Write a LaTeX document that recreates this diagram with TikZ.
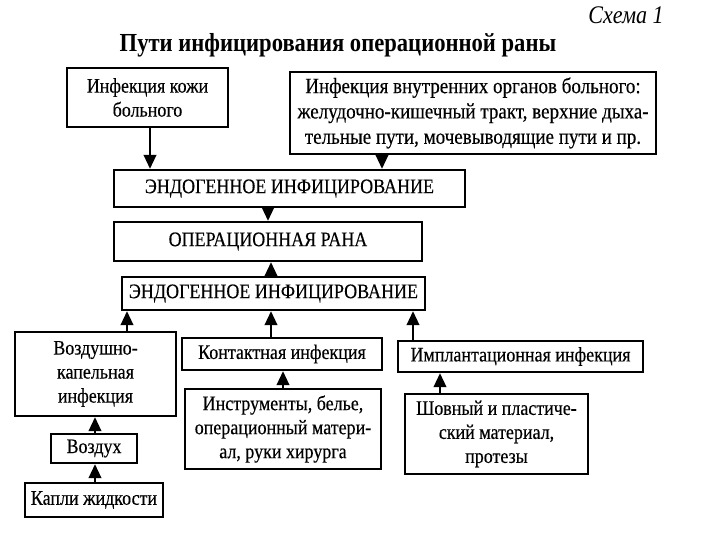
\documentclass[tikz,border=0pt]{standalone}
\usepackage{fontspec}
\setmainfont{Liberation Serif}
\newfontfamily\scanfont[FakeStretch=0.87,FakeBold=0.3]{Liberation Serif}
\newfontfamily\scanbold[FakeStretch=0.87]{Liberation Serif Bold}
\newfontfamily\scanit[FakeStretch=0.87]{Liberation Serif Italic}
\usetikzlibrary{arrows.meta}
\newcommand\bx[6]{%
  \pgfmathsetmacro\bxw{0.75*(#4-#2)}%
  \pgfmathsetmacro\bxh{0.75*(#5-#3)}%
  \node[box,minimum width=\bxw pt,minimum height=\bxh pt] (#1) at ({(#2+#4)/2},{(#3+#5)/2}) {#6};}
\begin{document}
\begin{tikzpicture}[x=0.75pt,y=-0.75pt,
  box/.style={draw=black,line width=1.8pt,inner sep=0pt,fill=white,align=center,
    font=\scanfont\fontsize{15.5}{18}\selectfont},
  bigtext/.style={font=\scanfont\fontsize{16.4}{19}\selectfont},
  arr/.style={line width=1.5pt,-{Triangle[width=9.5pt,length=10.5pt]}},
]
\useasboundingbox[fill=white] (0,0) rectangle (704,545);
% title
\node (schema) at (626,15) {\scanit\fontsize{19}{20}\selectfont Схема 1};
\node (title) at (338,45) {\scanbold\fontsize{19.5}{20}\selectfont Пути инфицирования операционной раны};
% boxes
\bx{b1}{67}{68}{228}{127}{Инфекция кожи\\больного}
\tikzset{box/.append style={bigtext}}
\bx{b2}{290}{72}{656}{154}{Инфекция внутренних органов больного:\\желудочно-кишечный тракт, верхние дыха-\\тельные пути, мочевыводящие пути и пр.}
\tikzset{box/.append style={font=\scanfont\fontsize{15.5}{18}\selectfont}}
\bx{b3}{114}{170}{465}{207}{ЭНДОГЕННОЕ ИНФИЦИРОВАНИЕ}
\bx{b4}{114}{222}{422}{261}{ОПЕРАЦИОННАЯ РАНА}
\bx{b5}{122}{277}{425}{310}{ЭНДОГЕННОЕ ИНФИЦИРОВАНИЕ}
\bx{b6}{15}{332}{176}{416}{Воздушно-\\капельная\\инфекция}
\bx{b7}{182}{338}{382}{370}{Контактная инфекция}
\bx{b8}{398}{341}{643}{372}{Имплантационная инфекция}
\bx{b9}{185}{389}{381}{469}{Инструменты, белье,\\операционный матери-\\ал, руки хирурга}
\bx{b10}{405}{394}{588}{474}{Шовный и пластиче-\\ский материал,\\протезы}
\bx{b11}{51}{434}{137}{463}{Воздух}
\bx{b12}{25}{483}{163}{517}{Капли жидкости}
% arrow x positions
\coordinate (xa) at (150,0);
\coordinate (xb) at (382,0);
\coordinate (xc) at (268,0);
\coordinate (xd) at (271,0);
\coordinate (xe) at (127,0);
\coordinate (xf) at (413,0);
\coordinate (xg) at (283,0);
\coordinate (xh) at (440,0);
\coordinate (xi) at (95,0);
% arrows
\draw[arr] (b1.south -| xa) -- (b3.north -| xa);
\draw[arr] (b2.south -| xb) -- (b3.north -| xb);
\draw[arr] (b3.south -| xc) -- (b4.north -| xc);
\draw[arr] (b5.north -| xd) -- (b4.south -| xd);
\draw[arr] (b6.north -| xe) -- (b5.south -| xe);
\draw[arr] (b7.north -| xd) -- (b5.south -| xd);
\draw[arr] (b8.north -| xf) -- (b5.south -| xf);
\draw[arr] (b9.north -| xg) -- (b7.south -| xg);
\draw[arr] (b10.north -| xh) -- (b8.south -| xh);
\draw[arr] (b11.north -| xi) -- (b6.south -| xi);
\draw[arr] (b12.north -| xi) -- (b11.south -| xi);
\end{tikzpicture}
\end{document}
